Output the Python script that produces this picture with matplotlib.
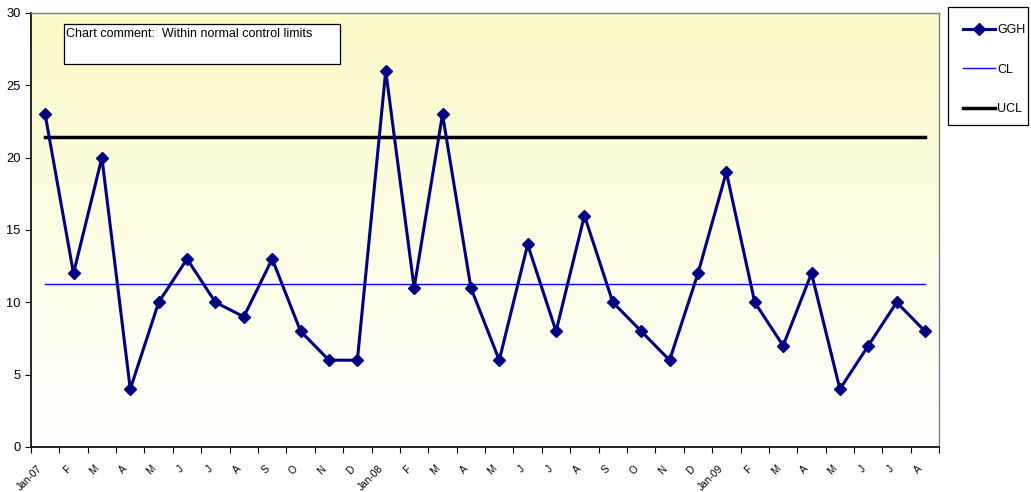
import numpy as np
import matplotlib
matplotlib.use("Agg")
import matplotlib.pyplot as plt
from matplotlib.colors import LinearSegmentedColormap
from matplotlib.patches import Rectangle
from matplotlib.transforms import ScaledTranslation

labels = ["Jan-07","F","M","A","M","J","J","A","S","O","N","D",
          "Jan-08","F","M","A","M","J","J","A","S","O","N","D",
          "Jan-09","F","M","A","M","J","J","A"]
ggh = [23,12,20,4,10,13,10,9,13,8,6,6,26,11,23,11,6,14,8,16,10,8,6,12,19,10,7,12,4,7,10,8]
cl_value = 11.3
ucl_value = 21.4

plt.rcParams['font.family'] = ['Liberation Sans', 'DejaVu Sans']

fig = plt.figure(figsize=(10.31, 4.92), dpi=100)
ax = fig.add_axes([0.030, 0.0915, 0.881, 0.8821])

n = len(ggh)
x = np.arange(n)
ax.set_xlim(-0.5, n - 0.5)
ax.set_ylim(0, 30)

cmap = LinearSegmentedColormap.from_list("bg", ["#FFFFFF", "#FBFAC8"])
grad = np.linspace(0, 1, 256).reshape(-1, 1)
ax.imshow(grad, aspect='auto', cmap=cmap, origin='lower',
          extent=(-0.5, n - 0.5, 0, 30), zorder=0)

ax.plot([x[0], x[-1]], [cl_value, cl_value], color='#0000FF', lw=1.0, zorder=2, label='CL')
ax.plot([x[0], x[-1]], [ucl_value, ucl_value], color='#000000', lw=2.5, zorder=2, label='UCL')
ax.plot(x, ggh, color='#000080', lw=2.2, marker='D', markersize=6,
        markerfacecolor='#000080', markeredgecolor='#000080', zorder=3, label='GGH')

ax.set_xticks(np.arange(-0.5, n, 1.0))
ax.set_xticklabels([])
ax.set_xticks(x, minor=True)
ax.set_xticklabels(labels, minor=True, rotation=45, ha='right', va='top', fontsize=7.3,
                   rotation_mode='anchor')
ax.tick_params(axis='x', which='minor', length=0, pad=12)
off = ScaledTranslation(-8 / 100, 0, fig.dpi_scale_trans)
for t in ax.get_xticklabels(minor=True):
    t.set_transform(t.get_transform() + off)
ax.tick_params(axis='x', which='major', length=4, direction='out', color='black')
ax.set_yticks(range(0, 31, 5))
ax.tick_params(axis='y', length=4, direction='out', labelsize=9.3)

for s in ['left', 'bottom']:
    ax.spines[s].set_color('black')
    ax.spines[s].set_linewidth(1.2)
for s in ['top', 'right']:
    ax.spines[s].set_color('#808080')
    ax.spines[s].set_linewidth(1.0)

# comment box
ax.text(0.0385, 0.966, "Chart comment:  Within normal control limits",
        transform=ax.transAxes, fontsize=9, va='top', ha='left', zorder=5)
ax.add_patch(Rectangle((0.0365, 0.883), 0.304, 0.091, transform=ax.transAxes,
                       facecolor='white', edgecolor='black', lw=0.9, zorder=4))

# legend frame drawn separately
fig.patches.append(Rectangle((948 / 1031, 1 - 125 / 492), 80 / 1031, 118 / 492,
                             transform=fig.transFigure, facecolor='white',
                             edgecolor='black', lw=0.9))

h, l = ax.get_legend_handles_labels()
order = [2, 0, 1]
leg = fig.legend([h[i] for i in order], [l[i] for i in order],
                 loc='upper left', bbox_to_anchor=(963 / 1031, 1 - 24 / 492),
                 fontsize=9, frameon=False,
                 handlelength=2.56, handletextpad=0.15, labelspacing=2.22, borderpad=0,
                 borderaxespad=0)

fig.savefig("out.png", dpi=100)
